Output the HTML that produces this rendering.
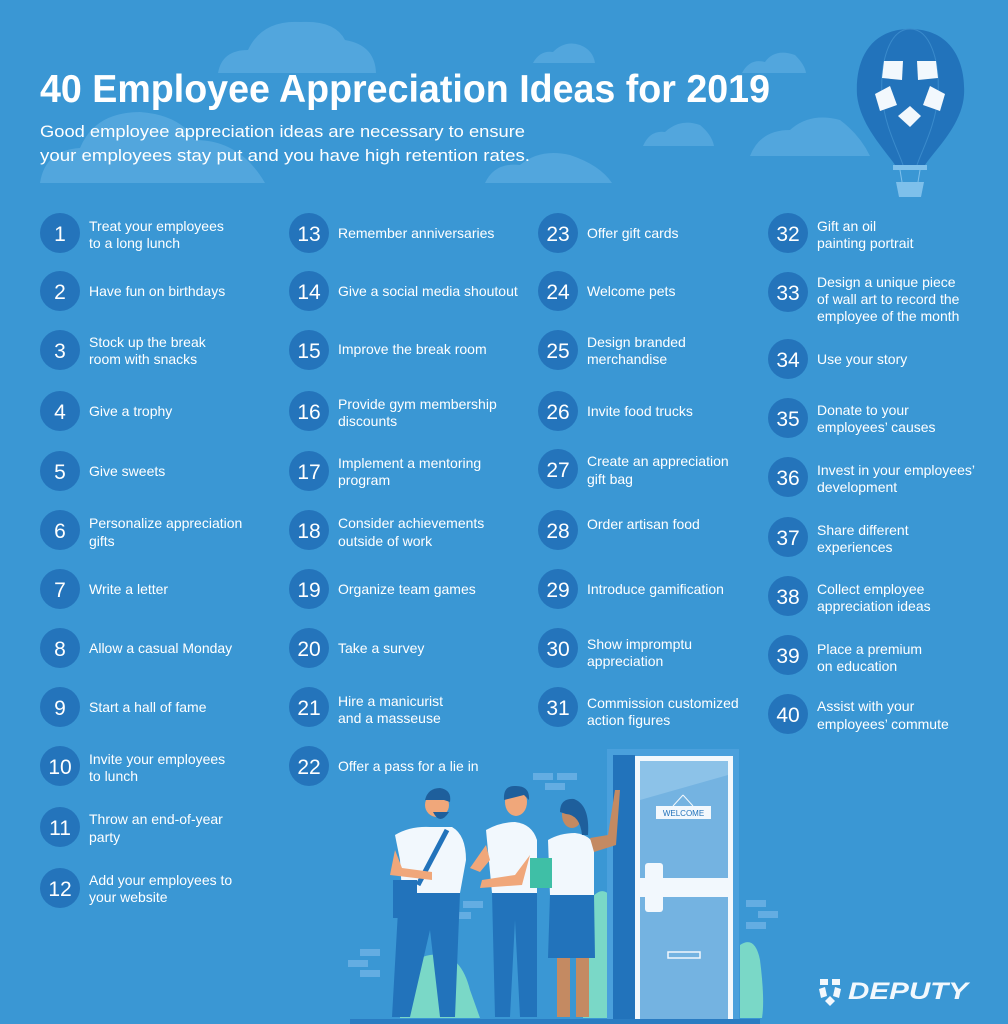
<!DOCTYPE html>
<html><head><meta charset="utf-8"><style>
html,body{margin:0;padding:0;background:#3a97d4;}
svg{display:block;font-family:"Liberation Sans",sans-serif;}
.n{fill:#fff;font-size:21px;text-anchor:middle;}
.t{fill:#fff;font-size:14px;}
</style></head><body>
<svg width="1008" height="1024" viewBox="0 0 1008 1024">
<rect width="1008" height="1024" fill="#3a97d4"/>
<!-- clouds -->
<g fill="#52a6dd">
<path d="M218 73 Q222 50 248 50 Q262 20 300 22 Q335 20 345 40 Q375 45 376 73 Z"/>
<path d="M40 183 Q45 150 80 148 Q95 112 140 112 Q180 115 195 140 Q240 140 265 183 Z"/>
<path d="M533 63 Q540 50 553 52 Q565 40 580 45 Q593 50 595 63 Z"/>
<path d="M643 146 Q650 130 665 132 Q680 118 700 125 Q712 135 714 146 Z"/>
<path d="M485 183 Q495 162 520 165 Q540 148 570 155 Q600 165 612 183 Z"/>
<path d="M750 156 Q760 130 790 130 Q810 112 840 120 Q860 135 870 156 Z"/>
<path d="M742 73 Q750 58 765 62 Q775 48 795 55 Q805 65 806 73 Z"/>
</g>
<!-- balloon -->
<path d="M910 29 C870 29 855 60 857 95 C860 125 885 150 895 165 L925 165 C935 150 962 125 964 95 C966 60 950 29 910 29 Z" fill="#2273bb"/>
<path d="M910 29 C890 29 880 60 882 95 C884 125 898 150 903 165" fill="none" stroke="#3a8bcc" stroke-width="1"/>
<path d="M910 29 C930 29 940 60 938 95 C936 125 922 150 917 165" fill="none" stroke="#3a8bcc" stroke-width="1"/>
<g fill="#f2f8fd">
<path d="M884 61 L903 61 L902 80 L882 78 Z"/>
<path d="M917 61 L936 61 L938 78 L918 80 Z"/>
<path d="M875 94 L890 86 L897 105 L880 111 Z"/>
<path d="M945 94 L930 86 L923 105 L940 111 Z"/>
<path d="M910 106 L921 116 L910 127 L898 116 Z"/>
</g>
<rect x="893" y="165" width="34" height="5" fill="#7ec0eb"/>
<path d="M896 182 L924 182 L921 197 L899 197 Z" fill="#7ec0eb"/>
<line x1="900" y1="170" x2="902" y2="182" stroke="#7ec0eb"/><line x1="920" y1="170" x2="918" y2="182" stroke="#7ec0eb"/>
<!-- title -->
<text x="40" y="102" fill="#fff" font-size="39" font-weight="bold" textLength="730" lengthAdjust="spacingAndGlyphs">40 Employee Appreciation Ideas for 2019</text>
<text x="40" y="137" fill="#fff" font-size="17" textLength="485" lengthAdjust="spacingAndGlyphs">Good employee appreciation ideas are necessary to ensure</text>
<text x="40" y="161" fill="#fff" font-size="17" textLength="490" lengthAdjust="spacingAndGlyphs">your employees stay put and you have high retention rates.</text>
<!-- circles -->
<g fill="#2474bb">
<circle cx="60" cy="233" r="20"/><circle cx="60" cy="291" r="20"/><circle cx="60" cy="350" r="20"/><circle cx="60" cy="411" r="20"/><circle cx="60" cy="471" r="20"/><circle cx="60" cy="530" r="20"/><circle cx="60" cy="589" r="20"/><circle cx="60" cy="648" r="20"/><circle cx="60" cy="707" r="20"/><circle cx="60" cy="766" r="20"/><circle cx="60" cy="827" r="20"/><circle cx="60" cy="888" r="20"/>
<circle cx="309" cy="233" r="20"/><circle cx="309" cy="291" r="20"/><circle cx="309" cy="350" r="20"/><circle cx="309" cy="411" r="20"/><circle cx="309" cy="471" r="20"/><circle cx="309" cy="530" r="20"/><circle cx="309" cy="589" r="20"/><circle cx="309" cy="648" r="20"/><circle cx="309" cy="707" r="20"/><circle cx="309" cy="766" r="20"/>
<circle cx="558" cy="233" r="20"/><circle cx="558" cy="291" r="20"/><circle cx="558" cy="350" r="20"/><circle cx="558" cy="411" r="20"/><circle cx="558" cy="469" r="20"/><circle cx="558" cy="530" r="20"/><circle cx="558" cy="589" r="20"/><circle cx="558" cy="648" r="20"/><circle cx="558" cy="707" r="20"/>
<circle cx="788" cy="233" r="20"/><circle cx="788" cy="292" r="20"/><circle cx="788" cy="359" r="20"/><circle cx="788" cy="418" r="20"/><circle cx="788" cy="477" r="20"/><circle cx="788" cy="537" r="20"/><circle cx="788" cy="596" r="20"/><circle cx="788" cy="655" r="20"/><circle cx="788" cy="714" r="20"/>
</g>
<g class="n">
<text x="60" y="241">1</text><text x="60" y="299">2</text><text x="60" y="358">3</text><text x="60" y="419">4</text><text x="60" y="479">5</text><text x="60" y="538">6</text><text x="60" y="597">7</text><text x="60" y="656">8</text><text x="60" y="715">9</text><text x="60" y="774">10</text><text x="60" y="835">11</text><text x="60" y="896">12</text>
<text x="309" y="241">13</text><text x="309" y="299">14</text><text x="309" y="358">15</text><text x="309" y="419">16</text><text x="309" y="479">17</text><text x="309" y="538">18</text><text x="309" y="597">19</text><text x="309" y="656">20</text><text x="309" y="715">21</text><text x="309" y="774">22</text>
<text x="558" y="241">23</text><text x="558" y="299">24</text><text x="558" y="358">25</text><text x="558" y="419">26</text><text x="558" y="477">27</text><text x="558" y="538">28</text><text x="558" y="597">29</text><text x="558" y="656">30</text><text x="558" y="715">31</text>
<text x="788" y="241">32</text><text x="788" y="300">33</text><text x="788" y="367">34</text><text x="788" y="426">35</text><text x="788" y="485">36</text><text x="788" y="545">37</text><text x="788" y="604">38</text><text x="788" y="663">39</text><text x="788" y="722">40</text>
</g>
<g class="t">
<text x="89" y="231">Treat your employees</text><text x="89" y="248">to a long lunch</text>
<text x="89" y="296">Have fun on birthdays</text>
<text x="89" y="347">Stock up the break</text><text x="89" y="364">room with snacks</text>
<text x="89" y="416">Give a trophy</text>
<text x="89" y="476">Give sweets</text>
<text x="89" y="528">Personalize appreciation</text><text x="89" y="546">gifts</text>
<text x="89" y="594">Write a letter</text>
<text x="89" y="653">Allow a casual Monday</text>
<text x="89" y="712">Start a hall of fame</text>
<text x="89" y="764">Invite your employees</text><text x="89" y="781">to lunch</text>
<text x="89" y="824">Throw an end-of-year</text><text x="89" y="842">party</text>
<text x="89" y="885">Add your employees to</text><text x="89" y="902">your website</text>

<text x="338" y="238">Remember anniversaries</text>
<text x="338" y="296">Give a social media shoutout</text>
<text x="338" y="354">Improve the break room</text>
<text x="338" y="409">Provide gym membership</text><text x="338" y="426">discounts</text>
<text x="338" y="468">Implement a mentoring</text><text x="338" y="485">program</text>
<text x="338" y="528">Consider achievements</text><text x="338" y="546">outside of work</text>
<text x="338" y="594">Organize team games</text>
<text x="338" y="653">Take a survey</text>
<text x="338" y="706">Hire a manicurist</text><text x="338" y="723">and a masseuse</text>
<text x="338" y="771">Offer a pass for a lie in</text>

<text x="587" y="238">Offer gift cards</text>
<text x="587" y="296">Welcome pets</text>
<text x="587" y="347">Design branded</text><text x="587" y="364">merchandise</text>
<text x="587" y="416">Invite food trucks</text>
<text x="587" y="466">Create an appreciation</text><text x="587" y="484">gift bag</text>
<text x="587" y="529">Order artisan food</text>
<text x="587" y="594">Introduce gamification</text>
<text x="587" y="649">Show impromptu</text><text x="587" y="666">appreciation</text>
<text x="587" y="708">Commission customized</text><text x="587" y="725">action figures</text>

<text x="817" y="231">Gift an oil</text><text x="817" y="248">painting portrait</text>
<text x="817" y="287">Design a unique piece</text><text x="817" y="304">of wall art to record the</text><text x="817" y="321">employee of the month</text>
<text x="817" y="364">Use your story</text>
<text x="817" y="415">Donate to your</text><text x="817" y="432">employees’ causes</text>
<text x="817" y="475">Invest in your employees’</text><text x="817" y="492">development</text>
<text x="817" y="535">Share different</text><text x="817" y="552">experiences</text>
<text x="817" y="594">Collect employee</text><text x="817" y="611">appreciation ideas</text>
<text x="817" y="654">Place a premium</text><text x="817" y="671">on education</text>
<text x="817" y="711">Assist with your</text><text x="817" y="729">employees’ commute</text>
</g>
<!-- bricks -->
<g fill="#64ade2">
<rect x="533" y="773" width="20" height="7"/><rect x="557" y="773" width="20" height="7"/><rect x="545" y="783" width="20" height="7"/>
<rect x="463" y="901" width="20" height="7"/><rect x="455" y="912" width="16" height="7"/>
<rect x="360" y="949" width="20" height="7"/><rect x="348" y="960" width="20" height="7"/><rect x="360" y="970" width="20" height="7"/>
<rect x="746" y="900" width="20" height="7"/><rect x="758" y="911" width="20" height="7"/><rect x="746" y="922" width="20" height="7"/>
</g>
<!-- bushes -->
<g fill="#7ad8c7">
<path d="M400 1018 Q398 960 430 955 Q460 950 470 990 L480 1018 Z"/>
<path d="M583 1018 L590 900 Q605 880 615 905 L615 1018 Z"/>
<path d="M740 1018 L740 945 Q755 935 760 960 Q765 1000 762 1018 Z"/>
</g>
<!-- door -->
<rect x="607" y="749" width="132" height="272" fill="#4aa0dc"/>
<rect x="613" y="755" width="22" height="266" fill="#2273bb"/>
<rect x="635" y="756" width="98" height="264" fill="#f2f8fd"/>
<rect x="640" y="761" width="88" height="259" fill="#74b3e1"/>
<path d="M640 761 L728 761 L728 775 L640 800 Z" fill="#8cc2e8"/>
<rect x="639" y="878" width="91" height="19" fill="#f2f8fd"/>
<rect x="645" y="863" width="18" height="49" rx="3" fill="#f2f8fd"/>
<line x1="683" y1="795" x2="673" y2="806" stroke="#f2f8fd"/><line x1="683" y1="795" x2="693" y2="806" stroke="#f2f8fd"/>
<rect x="656" y="806" width="55" height="13" fill="#f2f8fd"/>
<text x="683.5" y="816" font-size="8" fill="#2273bb" text-anchor="middle">WELCOME</text>
<rect x="668" y="952" width="32" height="6" fill="none" stroke="#f2f8fd" stroke-width="1.5"/>
<!-- people -->
<g>
<!-- man1 -->
<path d="M399 893 L460 893 L455 1017 L440 1017 L430 930 L410 1017 L392 1017 Z" fill="#2273bb"/>
<path d="M395 835 Q410 826 430 827 L452 827 Q466 835 466 860 L460 893 L402 893 L400 860 Z" fill="#f2f8fd"/>
<rect x="393" y="880" width="24" height="38" fill="#2273bb"/>
<line x1="447" y1="830" x2="418" y2="885" stroke="#2273bb" stroke-width="5"/>
<path d="M395 850 L390 875 L432 880 L432 872 L402 868 Z" fill="#f0a77a"/>
<circle cx="437" cy="805" r="12" fill="#f0a77a"/>
<path d="M425 800 Q428 788 440 788 Q452 790 450 802 L444 800 Z" fill="#1e5f9c"/>
<path d="M433 812 Q440 826 449 812 Z" fill="#1e5f9c"/>
<!-- man2 -->
<path d="M492 893 L537 893 L537 1017 L520 1017 L515 920 L510 1017 L495 1017 Z" fill="#2273bb"/>
<path d="M486 830 Q500 822 515 822 Q532 824 537 840 L537 893 L492 893 Z" fill="#f2f8fd"/>
<path d="M486 845 L470 868 L480 872 L490 860 Z" fill="#f0a77a"/>
<path d="M530 855 L522 885 L480 888 L482 880 L515 875 Z" fill="#f0a77a"/>
<ellipse cx="516" cy="802" rx="11" ry="14" fill="#f0a77a"/>
<path d="M504 800 Q503 785 516 786 Q530 786 529 800 L524 795 Z" fill="#1e5f9c"/>
<!-- woman -->
<rect x="557" y="955" width="13" height="62" fill="#c48a62"/><rect x="576" y="955" width="13" height="62" fill="#c48a62"/>
<path d="M550 895 L594 895 L595 958 L548 958 Z" fill="#2273bb"/>
<path d="M548 840 Q560 833 575 833 Q590 835 594 845 L594 895 L550 895 Z" fill="#f2f8fd"/>
<path d="M590 838 L608 835 L615 790 L620 790 L616 845 L594 852 Z" fill="#c48a62"/>
<ellipse cx="572" cy="815" rx="10" ry="13" fill="#c48a62"/>
<path d="M560 812 Q560 798 574 799 Q590 805 588 835 L582 835 Q580 815 566 814 Z" fill="#1e5f9c"/>
<rect x="530" y="858" width="22" height="30" fill="#3fbfa6"/>
</g>
<rect x="350" y="1019" width="410" height="5" fill="#2a7cc2"/>
<!-- logo -->
<g fill="#f2f8fd">
<path d="M820 979 L828 979 L828 985 L820 985 Z"/><path d="M832 979 L840 979 L840 985 L832 985 Z"/>
<path d="M819 989 L825 987 L827 996 L821 998 Z"/><path d="M841 989 L835 987 L833 996 L839 998 Z"/>
<path d="M830 996 L835 1001 L830 1006 L825 1001 Z"/>
</g>
<text x="848" y="999" fill="#f2f8fd" font-size="24" font-weight="bold" font-style="italic" textLength="120" lengthAdjust="spacingAndGlyphs">DEPUTY</text>
</svg>
</body></html>
